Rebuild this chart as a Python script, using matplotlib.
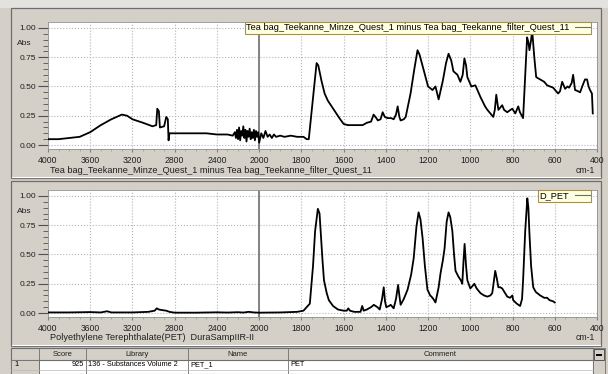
import numpy as np
import matplotlib
matplotlib.use("Agg")
import matplotlib.pyplot as plt
from matplotlib.patches import Rectangle
from matplotlib.lines import Line2D
from matplotlib.ticker import FixedLocator, FuncFormatter

plt.rcParams['font.family'] = ['Liberation Sans', 'DejaVu Sans']

# sample spectrum (difference spectrum of the tea bags)
sample_wn = [4000, 3900, 3800, 3700, 3600, 3500, 3400, 3300, 3250, 3200, 3100, 3010,
             2975, 2965, 2950, 2940, 2900, 2880, 2865, 2858, 2850, 2800, 2700, 2600,
             2500, 2400, 2300, 2250,
             2230, 2220, 2210, 2200, 2190, 2180, 2170, 2160, 2150, 2140, 2130, 2120,
             2110, 2100, 2090, 2080, 2070, 2060, 2050, 2040, 2030, 2020, 2010, 2000,
             1990, 1980, 1970, 1960, 1950, 1940, 1930, 1920, 1900, 1880, 1850, 1820,
             1790, 1775, 1765, 1745, 1728, 1720, 1705, 1690, 1675, 1646, 1620, 1600,
             1580, 1550, 1510, 1490, 1470, 1458, 1445, 1438, 1425, 1415, 1405, 1392,
             1375, 1363, 1352, 1344, 1336, 1330, 1315, 1306, 1283, 1265, 1250, 1240,
             1221, 1200, 1179, 1165, 1158, 1150, 1130, 1115, 1103, 1090, 1080, 1061,
             1047, 1036, 1028, 1020, 1014, 995, 976, 952, 930, 919, 891, 884, 877,
             867, 858, 849, 840, 825, 810, 801, 787, 773, 765, 750, 740, 731, 725,
             720, 712, 707, 697, 688, 669, 650, 636, 608, 584, 575, 565, 551, 540,
             532, 520, 513, 504, 490, 480, 470, 457, 447, 440, 433, 424, 420]
sample_abs = [0.05, 0.05, 0.06, 0.07, 0.11, 0.17, 0.22, 0.26, 0.25, 0.22, 0.19, 0.16,
              0.17, 0.31, 0.29, 0.15, 0.16, 0.24, 0.22, 0.04, 0.10, 0.10, 0.10, 0.10,
              0.10, 0.09, 0.09, 0.08,
              0.11, 0.06, 0.13, 0.05, 0.15, 0.04, 0.12, 0.08, 0.16, 0.06, 0.13, 0.03,
              0.12, 0.07, 0.14, 0.05, 0.11, 0.06, 0.13, 0.04, 0.12, 0.07, 0.11, 0.02,
              0.10, 0.06, 0.12, 0.07, 0.09, 0.06, 0.09, 0.07, 0.08, 0.07, 0.08, 0.07,
              0.07, 0.05, 0.05, 0.40, 0.70, 0.68, 0.55, 0.44, 0.38, 0.30, 0.23, 0.18,
              0.17, 0.17, 0.17, 0.19, 0.20, 0.26, 0.23, 0.21, 0.22, 0.28, 0.24, 0.23,
              0.23, 0.22, 0.26, 0.33, 0.24, 0.21, 0.22, 0.24, 0.44, 0.65, 0.81, 0.77,
              0.64, 0.50, 0.47, 0.50, 0.45, 0.39, 0.55, 0.70, 0.78, 0.72, 0.63, 0.60,
              0.54, 0.60, 0.74, 0.68, 0.58, 0.50, 0.51, 0.41, 0.33, 0.30, 0.24, 0.30, 0.43,
              0.30, 0.32, 0.34, 0.30, 0.28, 0.30, 0.31, 0.27, 0.33, 0.28, 0.23, 0.60, 0.92, 0.88,
              0.81, 0.90, 0.98, 0.75, 0.58, 0.56, 0.54, 0.51, 0.49, 0.44, 0.46, 0.54, 0.48, 0.50,
              0.49, 0.53, 0.60, 0.47, 0.46, 0.45, 0.50, 0.56, 0.56, 0.50, 0.47, 0.44, 0.27]

# library reference spectrum (PET)
ref_wn = [4000, 3800, 3600, 3500, 3440, 3400, 3200, 3050, 2990, 2970, 2950, 2920,
          2880, 2850, 2800, 2600, 2400, 2300, 2200, 2150, 2100, 2050, 2000, 1900,
          1820, 1790, 1760, 1745, 1735, 1722, 1714, 1707, 1700, 1693, 1680, 1670,
          1650, 1627, 1600, 1585, 1578, 1570, 1550, 1520, 1512, 1505, 1490, 1470,
          1457, 1440, 1429, 1418, 1410, 1404, 1398, 1385, 1377, 1363, 1352, 1342,
          1336, 1330, 1315, 1297, 1280, 1268, 1255, 1245, 1236, 1226, 1215, 1203,
          1190, 1184, 1175, 1165, 1150, 1141, 1130, 1122, 1112, 1103, 1095, 1085,
          1077, 1070, 1056, 1045, 1038, 1032, 1027, 1020, 1014, 1000, 990, 981,
          970, 952, 935, 919, 905, 896, 888, 882, 875, 867, 858, 849, 835, 825,
          812, 801, 797, 780, 764, 755, 750, 740, 730, 725, 720, 712, 702, 690,
          669, 650, 636, 625, 608, 600]
ref_abs = [0.005, 0.005, 0.008, 0.005, 0.015, 0.005, 0.005, 0.01, 0.02, 0.04, 0.03, 0.025,
           0.02, 0.01, 0.003, 0.003, 0.006, 0.004, 0.007, 0.004, 0.01, 0.005, 0.003, 0.005,
           0.01, 0.02, 0.08, 0.40, 0.70, 0.89, 0.85, 0.65, 0.45, 0.28, 0.17, 0.11,
           0.06, 0.03, 0.02, 0.02, 0.04, 0.02, 0.01, 0.01, 0.06, 0.02, 0.03, 0.05,
           0.07, 0.05, 0.03, 0.12, 0.22, 0.10, 0.05, 0.06, 0.07, 0.04, 0.12, 0.24,
           0.15, 0.07, 0.12, 0.20, 0.33, 0.47, 0.74, 0.86, 0.80, 0.64, 0.40, 0.20,
           0.15, 0.14, 0.12, 0.09, 0.22, 0.34, 0.45, 0.55, 0.78, 0.86, 0.82, 0.70,
           0.50, 0.36, 0.31, 0.28, 0.25, 0.45, 0.59, 0.40, 0.28, 0.21, 0.23, 0.25,
           0.21, 0.17, 0.15, 0.14, 0.15, 0.17, 0.28, 0.36, 0.30, 0.22, 0.22, 0.21, 0.17, 0.14,
           0.13, 0.15, 0.11, 0.08, 0.06, 0.12, 0.28, 0.70, 0.98, 0.90, 0.68, 0.40, 0.22, 0.18,
           0.15, 0.13, 0.13, 0.11, 0.10, 0.09]

xticks = [4000, 3600, 3200, 2800, 2400, 2000, 1800, 1600, 1400, 1200, 1000, 800, 600, 400]
yticks = [0.0, 0.25, 0.5, 0.75, 1.0]
sample_name = "Tea bag_Teekanne_Minze_Quest_1 minus Tea bag_Teekanne_filter_Quest_11"
ref_name = "Polyethylene Terephthalate(PET)  DuraSampIIR-II"
ref_legend = "D_PET"
table_cols = ["", "Score", "Library", "Name", "Comment"]
table_row = ["1", "925", "136 - Substances Volume 2", "PET_1", "PET"]
table_edges = [11, 39, 86, 188, 288, 593]

W, H = 608, 374
GRAY = '#d4d0c8'


def px_rect(x0, y0, x1, y1):
    return [x0 / W, 1 - y1 / H, (x1 - x0) / W, (y1 - y0) / H]


# wavenumber axis: half scale above 2000, full scale below
def fwd(x):
    x = np.asarray(x, float)
    return np.where(x >= 2000, 2000 + (x - 2000) / 2, x)


def inv(u):
    u = np.asarray(u, float)
    return np.where(u >= 2000, 2000 + 2 * (u - 2000), u)


fig = plt.figure(figsize=(W / 100, H / 100), dpi=100, facecolor=GRAY)

# window chrome drawn in pixel coords
bg = fig.add_axes([0, 0, 1, 1], zorder=0)
bg.set_xlim(0, W)
bg.set_ylim(H, 0)
bg.axis('off')
bg.add_patch(Rectangle((0, 0), W, 8, fc='#e4e2de', ec='none'))
for y0, y1 in [(8, 178), (181, 346)]:
    bg.add_patch(Rectangle((11, y0), 590, y1 - y0, fc=GRAY, ec='#6e6e6e', lw=0.9))
    bg.plot([12, 600], [y1 - 1, y1 - 1], color='white', lw=0.8)

# table of search hits
bg.add_patch(Rectangle((11, 348), 582, 26, fc='white', ec='#6e6e6e', lw=0.8))
bg.add_patch(Rectangle((11, 348), 582, 12, fc=GRAY, ec='#6e6e6e', lw=0.8))
bg.add_patch(Rectangle((11, 360), 28, 14, fc=GRAY, ec='#6e6e6e', lw=0.6))
for xe in table_edges[1:-1]:
    bg.plot([xe, xe], [348, 374], color='#6e6e6e', lw=0.6)
bg.plot([11, 593], [369.5, 369.5], color='#b8b8b8', lw=0.5)
for i, name in enumerate(table_cols):
    cx = (table_edges[i] + table_edges[i + 1]) / 2
    bg.text(cx, 354, name, ha='center', va='center', fontsize=5.5, color='#202020')
bg.text(14, 365, table_row[0], ha='left', va='center', fontsize=5.3)
bg.text(table_edges[2] - 2, 365, table_row[1], ha='right', va='center', fontsize=5.3)
for i in (2, 3, 4):
    bg.text(table_edges[i] + 2, 365, table_row[i], ha='left', va='center', fontsize=5.3)
bg.add_patch(Rectangle((593, 348), 12, 26, fc=GRAY, ec='#6e6e6e', lw=0.6))
bg.add_patch(Rectangle((594, 349), 10, 11, fc=GRAY, ec='#404040', lw=0.6))
bg.plot([597, 601], [355, 355], color='black', lw=1.4)

panels = [
    (px_rect(48, 22, 597, 149), sample_wn, sample_abs, sample_name, sample_name, 170, 22),
    (px_rect(48, 190, 597, 317), ref_wn, ref_abs, ref_legend, ref_name, 337, 190),
]

minor_x = [v for v in range(3900, 2000, -100)] + [v for v in range(1950, 400, -50)]
minor_y = [v / 100 for v in range(0, 101, 5)]

for rect, wn, ab, leg, xlab, ylab_y, top in panels:
    ax = fig.add_axes(rect, zorder=2)
    ax.set_facecolor('white')
    ax.set_xscale('function', functions=(fwd, inv))
    ax.plot(wn, ab, color='black', lw=1.3, zorder=3)
    ax.axvline(2000, color='#7a7a7a', lw=1.3, zorder=2)
    ax.set_xlim(4000, 400)
    ax.set_ylim(-0.034, 1.051)
    ax.xaxis.set_major_locator(FixedLocator(xticks))
    ax.xaxis.set_minor_locator(FixedLocator(minor_x))
    ax.xaxis.set_major_formatter(FuncFormatter(lambda v, p: f"{v:.0f}"))
    ax.yaxis.set_major_locator(FixedLocator(yticks))
    ax.yaxis.set_minor_locator(FixedLocator(minor_y))
    ax.yaxis.set_major_formatter(FuncFormatter(lambda v, p: f"{v:.2f}"))
    ax.grid(True, which='major', ls=':', color='#b4b4b4', lw=0.8)
    ax.tick_params(axis='x', which='major', length=2, pad=3, labelsize=6.2,
                   color='#808080', labelcolor='#202020')
    ax.tick_params(axis='x', which='minor', length=1.5, color='#a0a0a0')
    ax.tick_params(axis='y', which='major', length=7, pad=1.5, labelsize=6,
                   color='#505050', labelcolor='#202020')
    ax.tick_params(axis='y', which='minor', length=3.5, color='#505050')
    for s in ax.spines.values():
        s.set_color('#909090')
        s.set_linewidth(0.6)
    handle = Line2D([], [], color='#707050', lw=0.8)
    lg = ax.legend([handle], [leg], loc='upper right', bbox_to_anchor=(1 - 6 / 549, 1),
                   borderaxespad=0, markerfirst=False, fancybox=False, fontsize=6.65,
                   handlelength=1.6, handletextpad=0.6, borderpad=0.15, framealpha=1)
    lg.get_frame().set_facecolor('#ffffe1')
    lg.get_frame().set_edgecolor('#a09060')
    lg.get_frame().set_linewidth(0.8)
    lg.set_zorder(5)
    # spectrum title and unit below the axis, y label above the ticks
    bg.text(50, ylab_y, xlab, ha='left', va='center', fontsize=6.6, color='#202020')
    bg.text(595, ylab_y, 'cm-1', ha='right', va='center', fontsize=6.2, color='#202020')
    bg.text(17, top + 21, 'Abs', ha='left', va='center', fontsize=6, color='#202020')

fig.savefig('out.png', dpi=100, facecolor=GRAY)
